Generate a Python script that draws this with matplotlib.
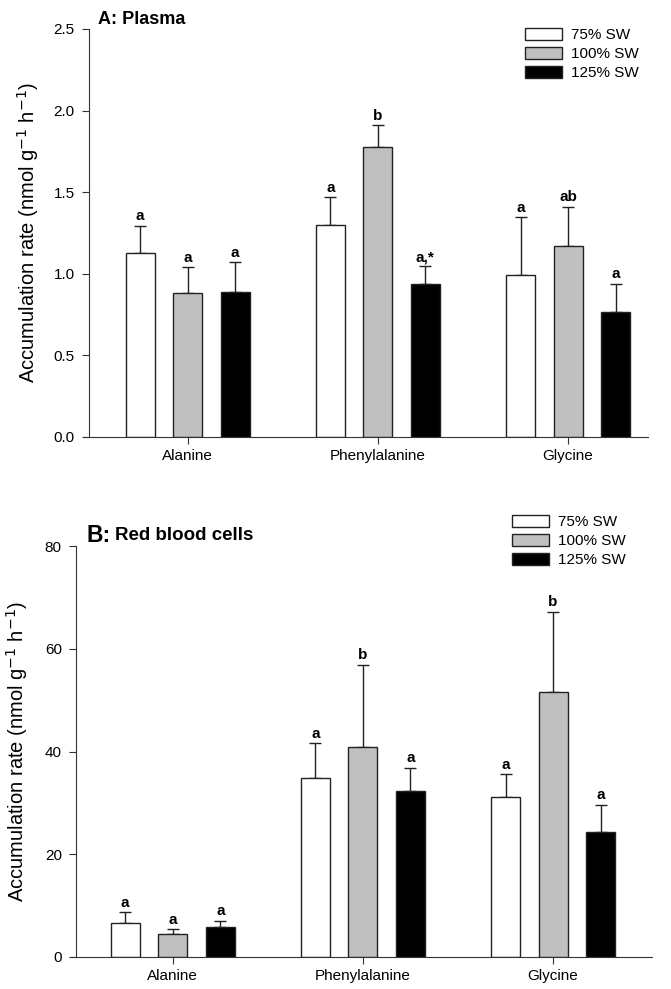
import numpy as np
import matplotlib.pyplot as plt

plt.rcParams['font.family'] = ['Liberation Sans', 'DejaVu Sans']

amino_acids = ['Alanine', 'Phenylalanine', 'Glycine']
treatments = ['75% SW', '100% SW', '125% SW']
colors = ['white', '#c0c0c0', 'black']

# Panel A: plasma
plasma_mean = [[1.13, 1.30, 0.99],
               [0.885, 1.775, 1.17],
               [0.89, 0.935, 0.765]]
plasma_err = [[0.165, 0.17, 0.355],
              [0.155, 0.135, 0.24],
              [0.18, 0.11, 0.175]]
plasma_letters = [['a', 'a', 'a'],
                  ['a', 'b', 'ab'],
                  ['a', 'a,*', 'a']]

# Panel B: red blood cells
rbc_mean = [[6.6, 34.9, 31.1],
            [4.4, 40.9, 51.6],
            [5.9, 32.4, 24.4]]
rbc_err = [[2.1, 6.7, 4.5],
           [1.0, 16.0, 15.6],
           [1.2, 4.4, 5.2]]
rbc_letters = [['a', 'a', 'a'],
               ['a', 'b', 'b'],
               ['a', 'a', 'a']]

W, H = 671, 989
fig = plt.figure(figsize=(W / 100, H / 100), dpi=100)
# axes boxes in pixels: left, right, top, bottom
ax1 = fig.add_axes([83 / W, 1 - 437 / H, (648 - 83) / W, (437 - 29) / H])
ax2 = fig.add_axes([70 / W, 1 - 957 / H, (652 - 70) / W, (957 - 546) / H])

x = np.arange(len(amino_acids))
width = 0.153
offsets = [-0.25, 0, 0.25]


def draw_panel(ax, means, errs, letters, ymax, yticks, ytlabels, lpad):
    for i in range(3):
        xs = x + offsets[i]
        ax.bar(xs, means[i], width, color=colors[i], edgecolor='#222222',
               linewidth=1.0, label=treatments[i], zorder=2)
        ax.errorbar(xs, means[i], yerr=[np.zeros(3), errs[i]], fmt='none',
                    ecolor='#222222', elinewidth=1.0, capsize=4.5, capthick=1.0,
                    zorder=1)
        for j in range(3):
            ax.text(xs[j], means[i][j] + errs[i][j] + ymax * 0.006, letters[i][j],
                    ha='center', va='bottom', fontsize=11, fontweight='bold')
    ax.set_ylim(0, ymax)
    ax.set_yticks(yticks)
    ax.set_yticklabels(ytlabels)
    ax.set_xticks(x)
    ax.set_xticklabels(amino_acids)
    ax.spines['top'].set_visible(False)
    ax.spines['right'].set_visible(False)
    for s in ['left', 'bottom']:
        ax.spines[s].set_color('#333333')
    ax.tick_params(direction='out', labelsize=11, length=5, color='#333333')
    ax.tick_params(axis='y', pad=5)
    ax.set_ylabel('Accumulation rate (nmol g$^{-1}$ h$^{-1}$)', fontsize=14.5,
                  labelpad=lpad)


def add_legend(ax, left_px, top_px):
    ax.legend(loc='upper left', bbox_to_anchor=(left_px / W, 1 - top_px / H),
              bbox_transform=fig.transFigure, frameon=False, fontsize=11,
              handlelength=2.4, handleheight=0.85, labelspacing=0.3,
              handletextpad=0.6, borderpad=0, borderaxespad=0)


draw_panel(ax1, plasma_mean, plasma_err, plasma_letters, 2.5,
           [0, 0.5, 1.0, 1.5, 2.0, 2.5],
           ['0.0', '0.5', '1.0', '1.5', '2.0', '2.5'], 9)
ax1.set_xlim(-0.55, 2.42)
ax1.spines['left'].set_position(('data', -0.52))
fig.text(98 / W, 1 - 19 / H, 'A: Plasma', fontsize=13, fontweight='bold',
         va='center')
add_legend(ax1, 525, 28)

draw_panel(ax2, rbc_mean, rbc_err, rbc_letters, 80,
           [0, 20, 40, 60, 80], ['0', '20', '40', '60', '80'], 11)
ax2.set_xlim(-0.54, 2.52)
ax2.spines['left'].set_position(('data', -0.51))
fig.text(86 / W, 1 - 535 / H, 'B:', fontsize=16.5, fontweight='bold',
         va='center')
fig.text(115 / W, 1 - 535 / H, 'Red blood cells', fontsize=13.5,
         fontweight='bold', va='center')
add_legend(ax2, 512, 515)

fig.savefig('out.png', dpi=100)
